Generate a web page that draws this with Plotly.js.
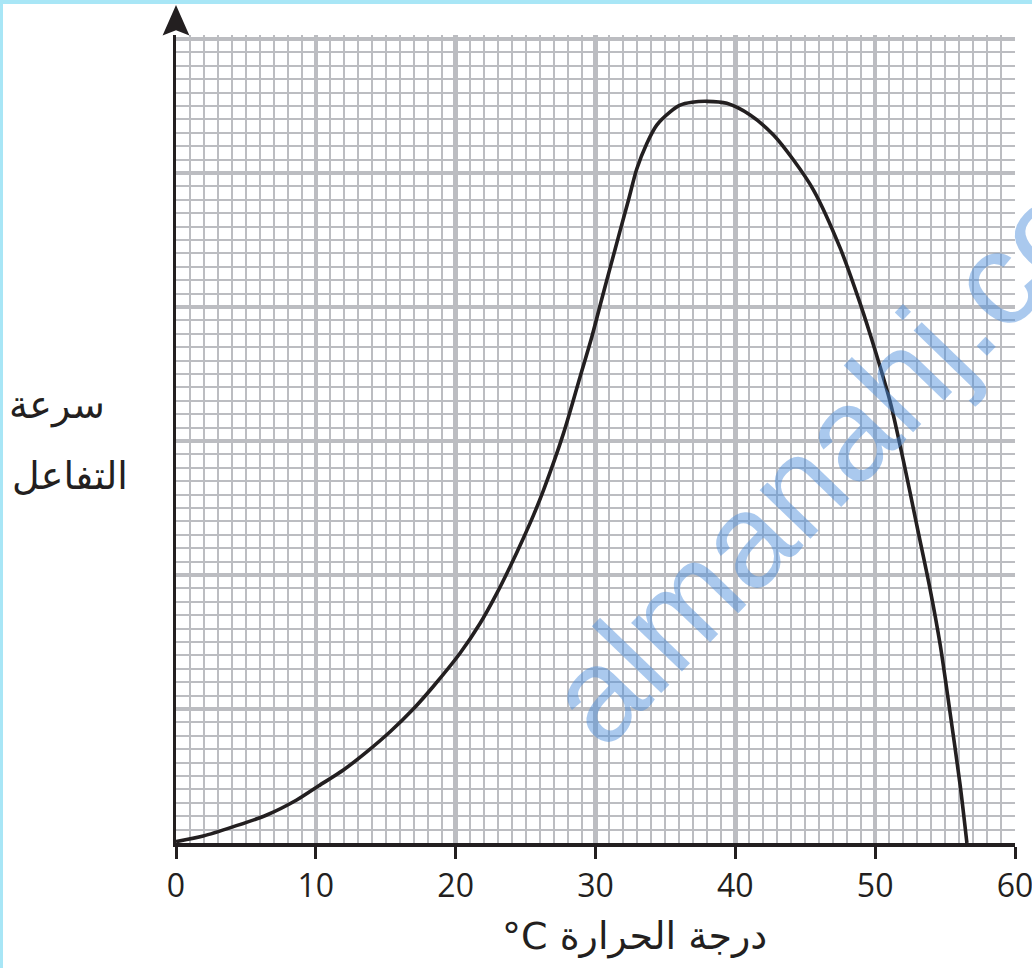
<!DOCTYPE html>
<html>
<head>
<meta charset="utf-8">
<script src="https://cdn.plot.ly/plotly-3.0.1.min.js"></script>
<style>html,body{margin:0;padding:0;background:#fff;}#chart{width:1032px;height:968px;}</style>
</head>
<body>
<div id="chart"></div>
<script>
// Temperature (°C) values
const temperature = [0, 1.95, 4.1, 6.49, 8.63, 10.18, 11.97, 13.64, 15.31, 16.97, 18.41, 20.31, 21.75, 22.94, 23.89, 24.84, 25.56, 26.27, 27.71, 28.9, 29.74, 30.45, 31.04, 31.76, 32.35, 32.95, 33.67, 34.38, 35.34, 36.05, 36.9, 37.96, 39.39, 41.06, 42.73, 44.16, 45.59, 47.5, 48.93, 50.0, 51.07, 52.03, 52.98, 53.93, 54.65, 55.36, 56.08, 56.56];
// Reaction rate (grid units)
const reactionRate = [0.1, 0.52, 1.22, 2.09, 3.21, 4.25, 5.45, 6.8, 8.3, 10.0, 11.7, 14.16, 16.4, 18.63, 20.62, 22.75, 24.45, 26.3, 30.57, 34.8, 37.78, 40.6, 42.9, 45.7, 47.95, 50.3, 52.21, 53.58, 54.57, 55.07, 55.28, 55.35, 55.2, 54.33, 52.84, 50.97, 48.73, 44.39, 40.25, 36.75, 32.93, 28.48, 23.7, 18.93, 14.79, 9.7, 4.29, 0];
// Axis tick values / labels
const xTickVals = [0, 10, 20, 30, 40, 50, 60];
const xTickText = ['0', '10', '20', '30', '40', '50', '60'];
// Texts
const yLabelLine1 = 'سرعة';
const yLabelLine2 = 'التفاعل';
const xLabel = '°C درجة الحرارة';
const watermark = 'almanahj.com';

const gridCol = '#bcbdc1';
const ink = '#231f20';

const trace = {
  x: temperature,
  y: reactionRate,
  type: 'scatter',
  mode: 'lines',
  line: {color: ink, width: 3.6, shape: 'spline', smoothing: 0.8},
  hoverinfo: 'skip',
  showlegend: false
};

const layout = {
  width: 1032,
  height: 968,
  margin: {l: 176, r: 17, t: 35, b: 125},
  paper_bgcolor: '#ffffff',
  plot_bgcolor: '#ffffff',
  showlegend: false,
  xaxis: {
    range: [0, 60],
    tickmode: 'array',
    tickvals: xTickVals,
    ticktext: xTickText,
    ticklabeloverflow: 'allow',
    showgrid: true,
    gridcolor: gridCol,
    gridwidth: 4.5,
    minor: {dtick: 1, tick0: 0, showgrid: true, gridcolor: gridCol, gridwidth: 2, ticks: ''},
    zeroline: false,
    showline: true,
    linecolor: ink,
    linewidth: 4,
    ticks: 'outside',
    ticklen: 12,
    tickwidth: 3,
    tickcolor: ink,
    tickfont: {family: 'Open Sans, sans-serif', size: 32, color: ink},
    fixedrange: true
  },
  yaxis: {
    range: [0, 60.3],
    dtick: 10,
    tick0: 0,
    showgrid: true,
    gridcolor: gridCol,
    gridwidth: 4.5,
    minor: {dtick: 1, tick0: 0, showgrid: true, gridcolor: gridCol, gridwidth: 2, ticks: ''},
    showticklabels: false,
    ticks: '',
    zeroline: false,
    showline: true,
    linecolor: ink,
    linewidth: 3,
    fixedrange: true
  },
  xaxis2: {
    overlaying: 'x', range: [0, 60], dtick: 5, tick0: 0,
    showgrid: true, gridcolor: gridCol, gridwidth: 3,
    showticklabels: false, ticks: '', zeroline: false, showline: false, fixedrange: true
  },
  yaxis2: {
    overlaying: 'y', range: [0, 60.3], dtick: 5, tick0: 0,
    showgrid: true, gridcolor: gridCol, gridwidth: 3,
    showticklabels: false, ticks: '', zeroline: false, showline: false, fixedrange: true
  },
  shapes: [
    // arrow head on the y axis
    {type: 'path', xref: 'paper', yref: 'paper', layer: 'above',
     path: 'M 0 1.037 L 0.016 0.9995 L 0 1.006 L -0.016 0.9995 Z',
     fillcolor: ink, line: {width: 0}},
    // cyan page border (top, left)
    {type: 'rect', xref: 'paper', yref: 'paper', layer: 'above',
     x0: -0.2098, x1: 1.0203, y0: 1.0384, y1: 1.045, fillcolor: '#a8e6f6', line: {width: 0}},
    {type: 'rect', xref: 'paper', yref: 'paper', layer: 'above',
     x0: -0.2098, x1: -0.2062, y0: -0.16, y1: 1.045, fillcolor: '#a8e6f6', line: {width: 0}}
  ],
  annotations: [
    {text: yLabelLine1, xref: 'paper', yref: 'paper', x: -0.1418, y: 0.542,
     xanchor: 'center', yanchor: 'middle',
     showarrow: false, font: {family: 'DejaVu Sans, sans-serif', size: 38, color: ink}},
    {text: yLabelLine2, xref: 'paper', yref: 'paper', x: -0.1263, y: 0.454,
     xanchor: 'center', yanchor: 'middle',
     showarrow: false, font: {family: 'DejaVu Sans, sans-serif', size: 38, color: ink}},
    {text: xLabel, xref: 'paper', yref: 'paper', x: 0.546, y: -0.1163,
     xanchor: 'center', yanchor: 'middle',
     showarrow: false, font: {family: 'DejaVu Sans, sans-serif', size: 38, color: ink}},
    {text: watermark, xref: 'paper', yref: 'paper', x: 0.813, y: 0.52,
     xanchor: 'center', yanchor: 'middle',
     textangle: -46, showarrow: false,
     font: {family: 'Liberation Sans, Arial, sans-serif', size: 133, color: 'rgba(74,140,218,0.47)'}}
  ]
};

Plotly.newPlot('chart', [trace], layout, {displayModeBar: false, staticPlot: true});
</script>
</body>
</html>
